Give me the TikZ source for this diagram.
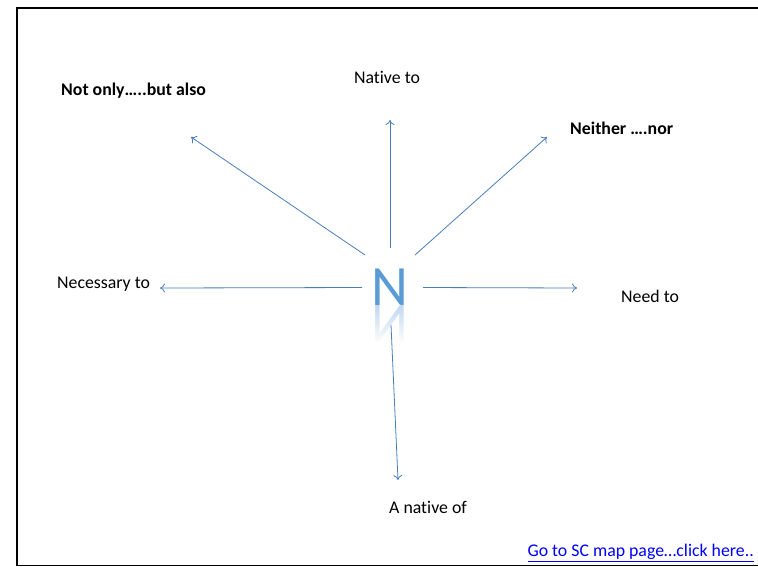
\documentclass[tikz,border=0pt]{standalone}
\usepackage{fontspec}
\setmainfont{Carlito}[Ligatures={NoCommon}]
\usetikzlibrary{arrows.meta,fadings}
\definecolor{arrowblue}{HTML}{4A7EBB}
\definecolor{nblue}{HTML}{5B9BD5}
\definecolor{linkblue}{HTML}{0000FF}
\tikzset{
  conn/.style={draw=arrowblue, line width=0.8pt, -{To[length=5pt,width=9pt]}},
  lbl/.style={font=\fontsize{17.8}{21}\selectfont, inner sep=0pt, anchor=west},
  blbl/.style={lbl, font=\fontsize{17.8}{21}\selectfont\bfseries},
  frame/.style={draw=black},
  bigN/.style={inner sep=0pt, text=nblue, font=\fontsize{57}{57}\selectfont}
}
\begin{document}
\begin{tikzpicture}[x=1pt,y=-1pt]
\useasboundingbox (0,0) rectangle (758,566);
\fill[white] (0,0) rectangle (758,566);
% frame
\draw[frame, line width=2.5pt] (17,8) -- (758,8);
\draw[frame, line width=2.2pt] (17,7) -- (17,565.5);
\draw[frame, line width=1pt] (16,565.5) -- (758,565.5);
% central letter and reflection
\node[bigN] (n) at (390,287) {N};
\node[bigN, text opacity=0.4, yscale=-1] (nr) at (390,323.5) {N};
\fill[white, path fading=north] (368,303) rectangle (414,344);
% labels
\node[lbl, anchor=center] (nativeto) at (387,77) {Native to};
\node[blbl] (notonly) at (61,91) {Not only…..but also};
\node[blbl] (neither) at (570,128) {Neither ….nor};
\node[lbl] (necessary) at (57,284) {Necessary to};
\node[lbl] (needto) at (621,296) {Need to};
\node[lbl, anchor=center] (anative) at (428,507) {A native of};
\node[lbl, anchor=east, text=linkblue] (link) at (754,553) {\underline{Go to SC map page…click here..}};
% connector ends
\coordinate (sU) at (390,248);   \coordinate (eU) at (390,120);
\coordinate (sUR) at (415,255);  \coordinate (eUR) at (547,137);
\coordinate (sUL) at (365,255);  \coordinate (eUL) at (191,137);
\coordinate (sL) at (362,287.5); \coordinate (eL) at (160,288);
\coordinate (sR) at (423,287.5); \coordinate (eR) at (577,288);
\coordinate (sD) at (391,325);   \coordinate (eD) at (398,480);
\draw[conn] (sU) -- (eU);
\draw[conn] (sUR) -- (eUR);
\draw[conn] (sUL) -- (eUL);
\draw[conn] (sL) -- (eL);
\draw[conn] (sR) -- (eR);
\draw[conn] (sD) -- (eD);
\end{tikzpicture}
\end{document}
